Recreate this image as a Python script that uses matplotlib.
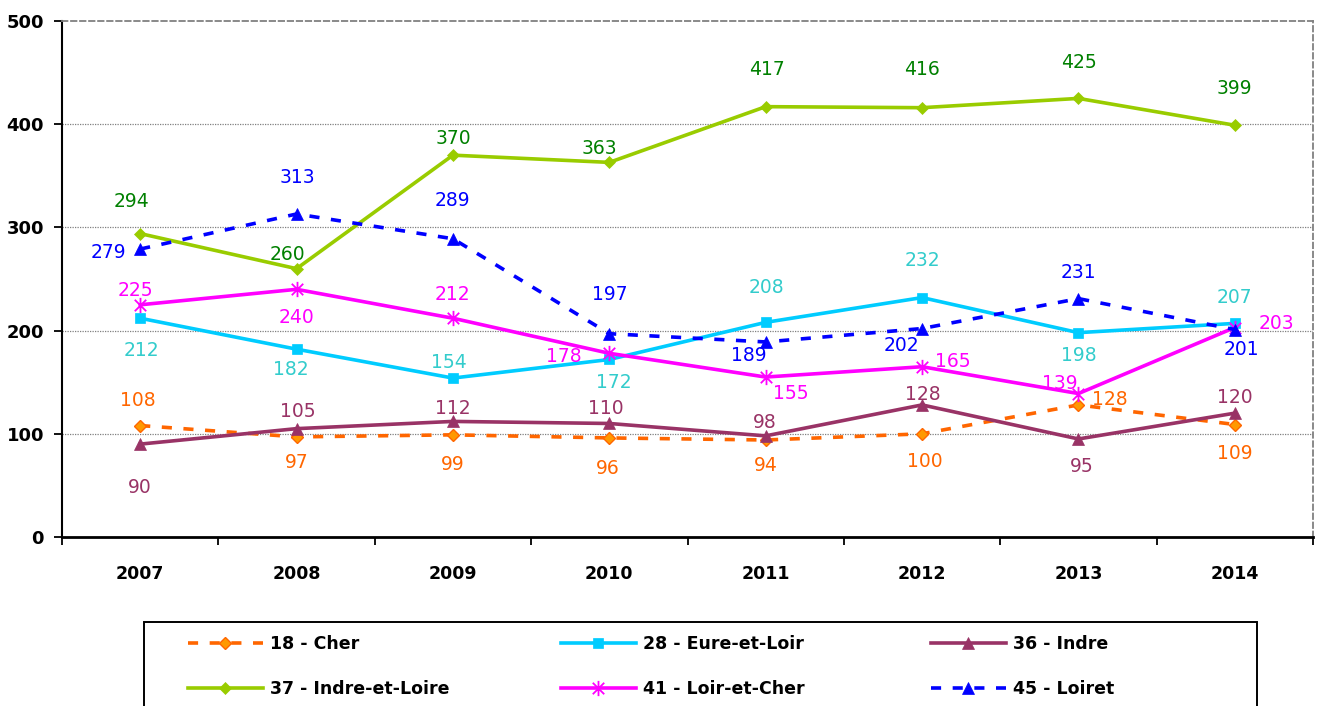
import matplotlib
matplotlib.use('Agg')
import matplotlib.pyplot as plt
from matplotlib.path import Path
from matplotlib.patches import Rectangle

# ---------------- data ----------------
years = ['2007', '2008', '2009', '2010', '2011', '2012', '2013', '2014']
cher = [108, 97, 99, 96, 94, 100, 128, 109]
eure_et_loir = [212, 182, 154, 172, 208, 232, 198, 207]
indre = [90, 105, 112, 110, 98, 128, 95, 120]
indre_et_loire = [294, 260, 370, 363, 417, 416, 425, 399]
loir_et_cher = [225, 240, 212, 178, 155, 165, 139, 203]
loiret = [279, 313, 289, 197, 189, 202, 231, 201]
series_names = ['18 - Cher', '28 - Eure-et-Loir', '36 - Indre',
                '37 - Indre-et-Loire', '41 - Loir-et-Cher', '45 - Loiret']
y_ticks = [0, 100, 200, 300, 400, 500]

# ---------------- styling ----------------
plt.rcParams['font.family'] = ['DejaVu Sans']
W, H, DPI = 1320, 706, 100
fig = plt.figure(figsize=(W / DPI, H / DPI), dpi=DPI)
ax = fig.add_axes([62 / W, 1 - 537 / H, (1313 - 62) / W, (537 - 21) / H])

star_marker = Path([(0, -1), (0, 1), (-0.75, -0.75), (0.75, 0.75), (-0.75, 0.75), (0.75, -0.75)],
                   [Path.MOVETO, Path.LINETO] * 3)

styles = [
    dict(color='#FF6600', ls=(0, (2.8, 3.2)), marker='D', ms=6.3, mfc='#FF9900', mec='#FF6600', mew=1.0),
    dict(color='#00CCFF', ls='-', marker='s', ms=6.5, mfc='#00CCFF', mec='#00CCFF', mew=0.5),
    dict(color='#993366', ls='-', marker='^', ms=8, mfc='#993366', mec='#993366', mew=0.5),
    dict(color='#99CC00', ls='-', marker='D', ms=6.3, mfc='#99CC00', mec='#99CC00', mew=0.5),
    dict(color='#FF00FF', ls='-', marker=star_marker, ms=11, mfc='none', mec='#FF00FF', mew=1.3),
    dict(color='#0000FF', ls=(0, (2.8, 3.2)), marker='^', ms=8, mfc='#0000FF', mec='#0000FF', mew=0.5),
]
label_colors = ['#FF6600', '#33CCCC', '#993366', '#008000', '#FF00FF', '#0000FF']

# label offsets (pixels) relative to each point
offsets = [
    [(-2, 27), (0, -24), (0, -28), (-2, -29), (0, -24), (3, -26), (31, 7), (0, -27)],
    [(1, -30), (-6, -18), (-4, 18), (4, -21), (1, 37), (0, 39), (0, -21), (0, 28)],
    [(0, -41), (1, 19), (0, 15), (-3, 17), (-1, 15), (1, 12), (3, -26), (0, 18)],
    [(-9, 34), (-9, 16), (0, 19), (-10, 16), (1, 39), (0, 40), (0, 38), (0, 39)],
    [(-5, 16), (0, -26), (0, 26), (-45, -1), (25, -14), (31, 7), (-19, 12), (42, 6)],
    [(-32, -1), (1, 38), (0, 40), (1, 41), (-17, -12), (-21, -15), (0, 28), (7, -18)],
]

all_series = [cher, eure_et_loir, indre, indre_et_loire, loir_et_cher, loiret]
x = list(range(len(years)))
handles = []
for vals, name, st, lc, offs in zip(all_series, series_names, styles, label_colors, offsets):
    h, = ax.plot(x, vals, color=st['color'], linestyle=st['ls'], lw=2.6,
                 marker=st['marker'], markersize=st['ms'], markerfacecolor=st['mfc'],
                 markeredgecolor=st['mec'], markeredgewidth=st['mew'], label=name,
                 zorder=3, clip_on=False)
    handles.append(h)
    for xi, v, (dx, dy) in zip(x, vals, offs):
        ax.annotate(str(v), (xi, v), xytext=(dx, dy - 2), textcoords='offset pixels',
                    ha='center', va='center', color=lc, fontsize=13.5, zorder=4)

# ---------------- axes ----------------
ax.set_xlim(-0.5, len(years) - 0.5)
ax.set_ylim(0, 500)
ax.set_yticks(y_ticks)
ax.set_yticklabels([str(t) for t in y_ticks], fontsize=13, fontweight='bold')
ax.set_xticks([i - 0.5 for i in range(len(years) + 1)])
ax.set_xticklabels([])
ax.set_xticks(x, minor=True)
ax.set_xticklabels(years, minor=True, fontsize=12.5, fontweight='bold')
ax.tick_params(axis='x', which='major', direction='out', length=6, width=1.3, color='black')
ax.tick_params(axis='x', which='minor', length=0, pad=20)
ax.tick_params(axis='y', direction='out', length=6, width=1.3, pad=7)

for yv in y_ticks[1:-1]:
    ax.axhline(yv, color='#808080', lw=0.9, ls=(0, (1, 1)), zorder=1)

ax.spines['left'].set_linewidth(1.5)
ax.spines['bottom'].set_linewidth(2.0)
for s in ('top', 'right'):
    ax.spines[s].set_color('#808080')
    ax.spines[s].set_linewidth(1.3)
    ax.spines[s].set_linestyle((0, (3, 2)))

# ---------------- legend ----------------
fig.patches.append(Rectangle((144 / W, -0.05), (1257 - 144) / W, 0.05 + (706 - 622) / H,
                             transform=fig.transFigure, fill=False, edgecolor='black',
                             lw=1.4, zorder=5))
col_x = [188, 561, 931]
for c in range(3):
    hs = [handles[c], handles[c + 3]]
    fig.legend(hs, [h.get_label() for h in hs], loc='upper left',
               bbox_to_anchor=(col_x[c] / W, 1 - 635 / H), bbox_transform=fig.transFigure,
               frameon=False, borderpad=0, borderaxespad=0, handlelength=4.3,
               handletextpad=0.45, labelspacing=1.55, numpoints=1,
               prop=dict(size=12.5, weight='bold'))

fig.savefig('out.png', dpi=DPI)
